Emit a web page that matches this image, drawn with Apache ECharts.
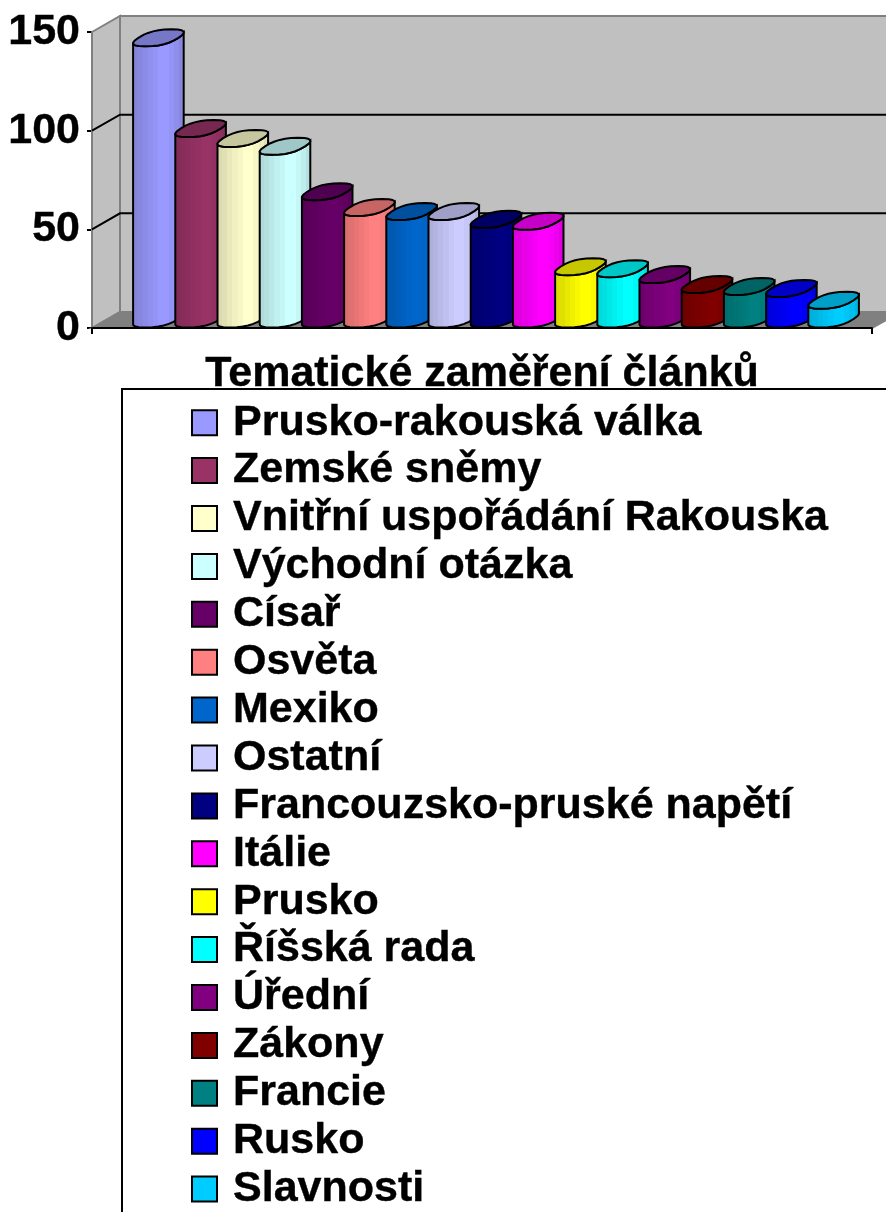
<!DOCTYPE html>
<html>
<head>
<meta charset="utf-8">
<style>
  html, body { margin: 0; padding: 0; background: #fff; }
  #chart { width: 886px; height: 1212px; }
</style>
<script src="https://cdn.jsdelivr.net/npm/echarts@6/dist/echarts.min.js"></script>
</head>
<body>
<div id="chart"></div>
<script>
const categories = ['Tematické zaměření článků'];
const themes = ['Prusko-rakouská válka', 'Zemské sněmy', 'Vnitřní uspořádání Rakouska', 'Východní otázka', 'Císař', 'Osvěta', 'Mexiko', 'Ostatní', 'Francouzsko-pruské napětí', 'Itálie', 'Prusko', 'Říšská rada', 'Úřední', 'Zákony', 'Francie', 'Rusko', 'Slavnosti'];
const counts = [143, 97, 92, 88, 65, 57, 55, 55, 51, 50, 27, 26, 23, 18, 17, 16, 10];
const colors = ['#9999FF', '#993366', '#FFFFCC', '#CCFFFF', '#660066', '#FF8080', '#0066CC', '#CCCCFF', '#000080', '#FF00FF', '#FFFF00', '#00FFFF', '#800080', '#800000', '#008080', '#0000FF', '#00CCFF'];
const yTicks = [0, 50, 100, 150];

const FONT = '"Liberation Sans", Arial, sans-serif';
const BAR_W = 42.2;
const DEPTH_X = 28;
const DEPTH_Y = 16;

function shade(hex, f) {
    const n = parseInt(hex.slice(1), 16);
    const c = [(n >> 16) & 255, (n >> 8) & 255, n & 255].map(v => Math.round(v * f));
    return 'rgb(' + c.join(',') + ')';
}

// blocky slanted ellipse, the cylinder ends in the original are not quite round
function lidPoints(cx, cy) {
    const pts = [];
    const n = 24;
    for (let i = 0; i < n; i++) {
        const t = 2 * Math.PI * i / n;
        const c = Math.sign(Math.cos(t)) * Math.pow(Math.abs(Math.cos(t)), 0.8);
        const s = Math.sign(Math.sin(t)) * Math.pow(Math.abs(Math.sin(t)), 0.8);
        pts.push([cx + c * 20 + s * 13, cy - s * 8.5]);
    }
    return pts;
}

// lower half of the lid outline between its leftmost and rightmost points
function frontEdge(pts) {
    let a = 0;
    let b = 0;
    pts.forEach((p, i) => {
        if (p[0] < pts[a][0]) a = i;
        if (p[0] > pts[b][0]) b = i;
    });
    const edge = [];
    for (let i = a; i !== b; i = (i + 1) % pts.length) edge.push(pts[i]);
    edge.push(pts[b]);
    return edge;
}

function renderCylinder(params, api) {
    const i = params.seriesIndex - 1;
    const color = colors[i];
    const top = api.coord([0, api.value(1)]);
    const base = api.coord([0, 0]);
    const cx = base[0] - themes.length * BAR_W / 2 + i * BAR_W + BAR_W / 2 + DEPTH_X / 2;

    const lid = lidPoints(cx, top[1] - DEPTH_Y / 2);
    const foot = lidPoints(cx, base[1] - DEPTH_Y / 2 - 1);
    const front = frontEdge(lid).concat(frontEdge(foot).reverse());

    const bands = [0.86, 0.88, 0.91, 0.94, 0.97, 1, 1, 0.97, 0.93, 0.88];
    const stops = [];
    bands.forEach((b, k) => {
        stops.push({ offset: k / bands.length, color: shade(color, b) });
        stops.push({ offset: (k + 1) / bands.length, color: shade(color, b) });
    });

    return {
        type: 'group',
        children: [
            {
                type: 'polygon',
                shape: { points: front },
                style: {
                    fill: new echarts.graphic.LinearGradient(0, 0, 1, 0, stops),
                    stroke: '#000',
                    lineWidth: 2
                }
            },
            {
                type: 'polygon',
                shape: { points: lid },
                style: { fill: shade(color, 0.78), stroke: '#000', lineWidth: 2 }
            }
        ]
    };
}

function renderWalls(params, api) {
    const mid = api.coord([0, 0]);
    const band = api.size([1, 0])[0];
    const left = mid[0] - band / 2;
    const right = mid[0] + band / 2;
    const y0 = mid[1];
    const yTop = api.coord([0, yTicks[yTicks.length - 1]])[1];
    const backL = left + DEPTH_X;
    const backR = right + DEPTH_X;
    const grey = { stroke: '#808080', lineWidth: 2 };

    const children = [
        {
            type: 'polygon',
            shape: { points: [[left, yTop], [backL, yTop - DEPTH_Y], [backL, y0 - DEPTH_Y], [left, y0]] },
            style: Object.assign({ fill: '#C0C0C0' }, grey)
        },
        {
            type: 'polygon',
            shape: { points: [[backL, yTop - DEPTH_Y], [backR, yTop - DEPTH_Y], [backR, y0 - DEPTH_Y], [backL, y0 - DEPTH_Y]] },
            style: Object.assign({ fill: '#C0C0C0' }, grey)
        },
        {
            type: 'polygon',
            shape: { points: [[left, y0], [backL, y0 - DEPTH_Y], [backR, y0 - DEPTH_Y], [right, y0]] },
            style: Object.assign({ fill: '#808080' }, grey)
        }
    ];
    yTicks.slice(1, -1).forEach(v => {
        const y = api.coord([0, v])[1];
        children.push({
            type: 'polyline',
            shape: { points: [[left, y], [backL, y - DEPTH_Y], [backR, y - DEPTH_Y]] },
            style: { fill: null, stroke: '#000', lineWidth: 2 }
        });
    });
    return { type: 'group', children: children };
}

const series = [{
    name: 'walls',
    type: 'custom',
    coordinateSystem: 'cartesian2d',
    renderItem: renderWalls,
    silent: true,
    data: [[0, 0]]
}];
themes.forEach((name, i) => {
    series.push({
        name: name,
        type: 'custom',
        coordinateSystem: 'cartesian2d',
        renderItem: renderCylinder,
        itemStyle: { color: colors[i] },
        data: [[0, counts[i]]]
    });
});

const chart = echarts.init(document.getElementById('chart'), null, { renderer: 'canvas' });
chart.setOption({
    animation: false,
    backgroundColor: '#fff',
    grid: { left: 92, right: 14, top: 32, height: 296 },
    xAxis: {
        type: 'category',
        data: categories,
        axisLine: { lineStyle: { color: '#000', width: 2 } },
        axisTick: { show: true, length: 6, lineStyle: { color: '#000', width: 2 } },
        axisLabel: { color: '#000', fontFamily: FONT, fontWeight: 'bold', fontSize: 43, margin: 25, textBorderColor: '#000', textBorderWidth: 0.4 },
        z: 10
    },
    yAxis: {
        type: 'value',
        min: 0,
        max: 150,
        interval: 50,
        splitLine: { show: false },
        axisLine: { show: true, lineStyle: { color: '#000', width: 2 } },
        axisTick: { show: true, length: 5, lineStyle: { color: '#000', width: 2 } },
        axisLabel: { color: '#000', fontFamily: FONT, fontWeight: 'bold', fontSize: 43, margin: 12, padding: [4, 0, 0, 0], textBorderColor: '#000', textBorderWidth: 0.4 }
    },
    legend: {
        show: true,
        orient: 'vertical',
        left: 122,
        top: 389,
        height: 900,
        data: themes,
        icon: 'rect',
        align: 'left',
        itemWidth: 25,
        itemHeight: 25,
        itemGap: 4.5,
        padding: [12, 60, 40, 69],
        backgroundColor: '#fff',
        borderColor: '#000',
        borderWidth: 2,
        itemStyle: { borderColor: '#000', borderWidth: 2 },
        selectedMode: false,
        textStyle: { color: '#000', fontFamily: FONT, fontWeight: 'bold', fontSize: 43, padding: [0, 0, 0, 11], textBorderColor: '#000', textBorderWidth: 0.4 }
    },
    series: series
});
</script>
</body>
</html>
